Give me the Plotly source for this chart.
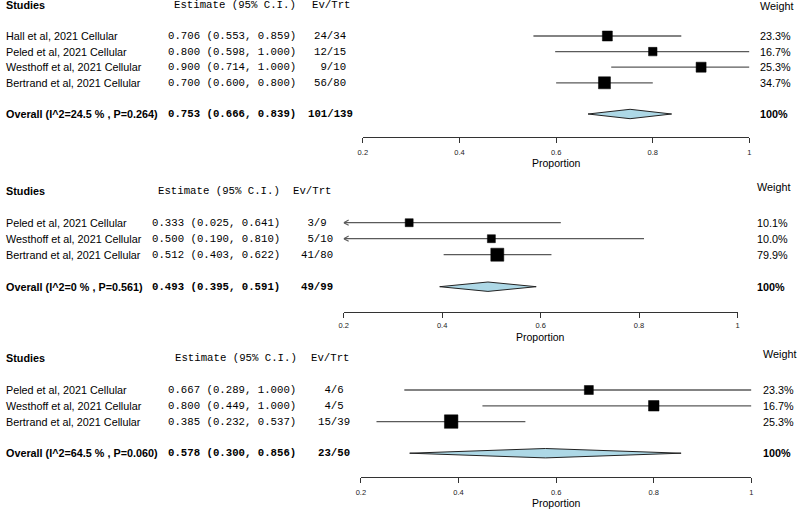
import plotly.graph_objects as go

W, H = 800, 509

# ------------------------------------------------------------------ data
p1_studies = ["Hall et al, 2021 Cellular", "Peled et al, 2021 Cellular",
              "Westhoff et al, 2021 Cellular", "Bertrand et al, 2021 Cellular"]
p1_est = [0.706, 0.800, 0.900, 0.700]
p1_lo = [0.553, 0.598, 0.714, 0.600]
p1_hi = [0.859, 1.000, 1.000, 0.800]
p1_ev = [24, 12, 9, 56]
p1_n = [34, 15, 10, 80]
p1_weight = ["23.3%", "16.7%", "25.3%", "34.7%"]
p1_overall_label = "Overall (I^2=24.5 % , P=0.264)"
p1_overall = [0.753, 0.666, 0.839]   # est, lo, hi
p1_overall_evn = [101, 139]

p2_studies = ["Peled et al, 2021 Cellular", "Westhoff et al, 2021 Cellular",
              "Bertrand et al, 2021 Cellular"]
p2_est = [0.333, 0.500, 0.512]
p2_lo = [0.025, 0.190, 0.403]
p2_hi = [0.641, 0.810, 0.622]
p2_ev = [3, 5, 41]
p2_n = [9, 10, 80]
p2_weight = ["10.1%", "10.0%", "79.9%"]
p2_overall_label = "Overall (I^2=0 % , P=0.561)"
p2_overall = [0.493, 0.395, 0.591]
p2_overall_evn = [49, 99]

p3_studies = ["Peled et al, 2021 Cellular", "Westhoff et al, 2021 Cellular",
              "Bertrand et al, 2021 Cellular"]
p3_est = [0.667, 0.800, 0.385]
p3_lo = [0.289, 0.449, 0.232]
p3_hi = [1.000, 1.000, 0.537]
p3_ev = [4, 4, 15]
p3_n = [6, 5, 39]
p3_weight = ["23.3%", "16.7%", "25.3%"]
p3_overall_label = "Overall (I^2=64.5 % , P=0.060)"
p3_overall = [0.578, 0.300, 0.856]
p3_overall_evn = [23, 50]

tick_vals = [0.2, 0.4, 0.6, 0.8, 1.0]
tick_text = ["0.2", "0.4", "0.6", "0.8", "1"]
x_title = "Proportion"

# ------------------------------------------------------------------ styles / geometry (pixels)
box_px = [[10, 8.5, 10, 12], [8, 8, 13], [9, 10.5, 13.5]]
geo = [
    dict(x0=361, x1=751, axis=137, first=36, step=15.6, top=0, standoff=3,
         est_x=164, est_hdr=170, ev_c=328, ev_hdr=328.5, w_x=762, w_dy=-1, prop=163),
    dict(x0=341.7, x1=739, axis=311.7, first=222.7, step=16.0, top=150, standoff=1,
         est_x=148, est_hdr=154, ev_c=315, ev_hdr=310, w_x=759, w_dy=4, prop=337),
    dict(x0=359, x1=753, axis=476.7, first=390, step=15.8, top=330, standoff=3,
         est_x=164, est_hdr=171, ev_c=331.5, ev_hdr=327.5, w_x=765, w_dy=4, prop=503),
]

panels = [
    (p1_studies, p1_est, p1_lo, p1_hi, p1_ev, p1_n, p1_weight, p1_overall_label, p1_overall, p1_overall_evn),
    (p2_studies, p2_est, p2_lo, p2_hi, p2_ev, p2_n, p2_weight, p2_overall_label, p2_overall, p2_overall_evn),
    (p3_studies, p3_est, p3_lo, p3_hi, p3_ev, p3_n, p3_weight, p3_overall_label, p3_overall, p3_overall_evn),
]

SANS = "Liberation Sans, Arial, Helvetica, sans-serif"
MONO = "Courier New, Liberation Mono, monospace"
LINE_COL = "#5a5a5a"
NB = "\u00a0"

fig = go.Figure()
annotations = []
layout_axes = {}

for k, (studies, est, lo, hi, ev, n, wt, olab, ov, oevn) in enumerate(panels):
    g = geo[k]
    sfx = "" if k == 0 else str(k + 1)
    xa, ya = "x" + sfx, "y" + sfx
    xmin, xmax = tick_vals[0], tick_vals[-1]
    px_per_unit = (g["x1"] - g["x0"]) / (xmax - xmin)

    def idx(px, g=g):
        return 1 + (px - g["first"]) / g["step"]

    nst = len(studies)
    rows = list(range(1, nst + 1))
    orow = nst + 2

    # CI lines (+ arrows when truncated)
    for i in range(nst):
        lo_d = max(lo[i], xmin)
        hi_d = min(hi[i], xmax)
        fig.add_trace(go.Scatter(x=[lo_d, hi_d], y=[rows[i], rows[i]], mode="lines",
                                 line=dict(color=LINE_COL, width=1.3),
                                 xaxis=xa, yaxis=ya, showlegend=False, hoverinfo="skip"))
        if lo[i] < xmin:
            dx = 5 / px_per_unit
            dy = 2.6 / g["step"]
            fig.add_trace(go.Scatter(x=[xmin + dx, xmin, xmin + dx],
                                     y=[rows[i] - dy, rows[i], rows[i] + dy], mode="lines",
                                     line=dict(color=LINE_COL, width=1.1),
                                     xaxis=xa, yaxis=ya, showlegend=False, hoverinfo="skip"))
    # squares
    fig.add_trace(go.Scatter(x=est, y=rows, mode="markers",
                             marker=dict(symbol="square", size=box_px[k], color="#000000",
                                         line=dict(width=0.5, color="#000000"), opacity=1),
                             xaxis=xa, yaxis=ya, showlegend=False, hoverinfo="skip"))
    # diamond
    h = 4.7 / g["step"]
    fig.add_trace(go.Scatter(x=[ov[1], ov[0], ov[2], ov[0], ov[1]],
                             y=[orow, orow - h, orow, orow + h, orow],
                             mode="lines", fill="toself", fillcolor="#ADD8E6",
                             line=dict(color="#222222", width=1),
                             xaxis=xa, yaxis=ya, showlegend=False, hoverinfo="skip"))

    layout_axes["xaxis" + sfx] = dict(
        domain=[g["x0"] / W, g["x1"] / W], range=[xmin, xmax], anchor=ya,
        showline=True, linecolor="#333333", linewidth=1, ticks="outside", ticklen=5,
        tickcolor="#333333", tickwidth=1, tickvals=tick_vals, ticktext=tick_text,
        tickfont=dict(family=SANS, size=7.5, color="#222222"), ticklabelstandoff=g["standoff"],
        showgrid=False, zeroline=False, fixedrange=True)
    layout_axes["yaxis" + sfx] = dict(
        domain=[1 - g["axis"] / H, 1 - g["top"] / H],
        range=[idx(g["axis"]), idx(g["top"])], anchor=xa, visible=False,
        showgrid=False, zeroline=False, fixedrange=True)

    def ann(text, xpx, y, anchor="left", font=SANS, size=10.8, bold=False, yshift=0):
        t = "<b>" + text + "</b>" if bold else text
        annotations.append(dict(text=t, x=xpx / W, xref="paper", y=y, yref=ya,
                                xanchor=anchor, yanchor="middle", showarrow=False,
                                yshift=yshift, borderpad=0, borderwidth=0,
                                font=dict(family=font, size=size, color="black")))

    # headers
    ann("Studies", 1, -1, bold=True)
    ann("Estimate (95% C.I.)".replace(" ", NB), g["est_hdr"], -1, font=MONO, size=10.7)
    ann("Ev/Trt", g["ev_hdr"], -1, anchor="center", font=MONO, size=10.7)
    ann("Weight", g["w_x"], -1, yshift=g["w_dy"])
    # rows
    for i in range(nst):
        ann(studies[i], 1, rows[i])
        s = f"{est[i]:.3f} ({lo[i]:.3f}, {hi[i]:.3f})".replace(" ", NB)
        ann(s, g["est_x"], rows[i], font=MONO, size=10.7)
        e = f"{ev[i]}/{n[i]}".center(5).replace(" ", NB)
        ann(e, g["ev_c"], rows[i], anchor="center", font=MONO, size=10.7)
        ann(wt[i], g["w_x"], rows[i])
    # overall
    ann(olab, 1, orow, bold=True)
    s = f"{ov[0]:.3f} ({ov[1]:.3f}, {ov[2]:.3f})".replace(" ", NB)
    ann(s, g["est_x"], orow, font=MONO, size=10.7, bold=True)
    ann(f"{oevn[0]}/{oevn[1]}", g["ev_c"], orow, anchor="center", font=MONO, size=10.7, bold=True)
    ann("100%", g["w_x"], orow, bold=True)
    # x-axis title
    annotations.append(dict(text=x_title, x=(xmin + xmax) / 2, xref=xa, y=1 - g["prop"] / H,
                            yref="paper", xanchor="center", yanchor="middle", showarrow=False,
                            font=dict(family=SANS, size=10.5, color="black")))

fig.update_layout(width=W, height=H, margin=dict(l=0, r=0, t=0, b=0),
                  paper_bgcolor="white", plot_bgcolor="white",
                  annotations=annotations, **layout_axes)

fig.write_html("out.html", config={"displayModeBar": False, "staticPlot": True},
               post_script="document.body.style.margin='0';document.body.style.overflow='hidden';")
